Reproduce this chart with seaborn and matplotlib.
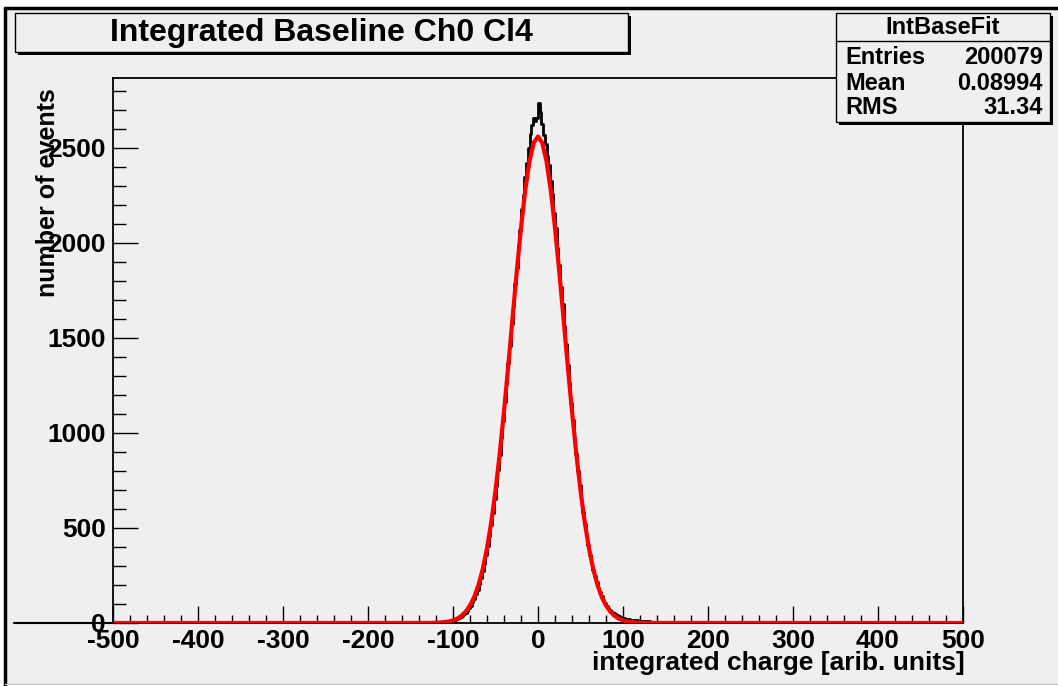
import numpy as np
import matplotlib
matplotlib.use("Agg")
import matplotlib.pyplot as plt
import seaborn as sns
from matplotlib.patches import Rectangle
from matplotlib.lines import Line2D
from matplotlib.ticker import MultipleLocator

# ---------------- data ----------------
title = "Integrated Baseline Ch0 Cl4"
x_label = "integrated charge [arib. units]"
y_label = "number of events"
stats_name = "IntBaseFit"
stats_rows = ["Entries", "Mean", "RMS"]
stats_vals = ["200079", "0.08994", "31.34"]

x_ticks = [-500, -400, -300, -200, -100, 0, 100, 200, 300, 400, 500]
x_tick_labels = ["-500", "-400", "-300", "-200", "-100", "0", "100", "200", "300", "400", "500"]
y_ticks = [0, 500, 1000, 1500, 2000, 2500]
y_tick_labels = ["0", "500", "1000", "1500", "2000", "2500"]

# histogram: bin centres (2 units wide) and counts per unit
hist_centers = list(range(-119, 151, 2))
hist_counts = [
    0, 1, 1, 2, 2, 3, 4, 6, 7, 10,
    13, 16, 21, 25, 30, 37, 45, 55, 64, 77,
    92, 108, 128, 151, 174, 205, 236, 272, 310, 357,
    404, 460, 518, 580, 652, 722, 804, 884, 975, 1062,
    1165, 1258, 1370, 1460, 1575, 1668, 1785, 1870, 1990, 2070,
    2180, 2250, 2345, 2420, 2500, 2575, 2620, 2655, 2640, 2660,
    2737, 2690, 2625, 2570, 2520, 2455, 2410, 2325, 2260, 2160,
    2080, 1975, 1885, 1770, 1680, 1565, 1470, 1360, 1265, 1158,
    1070, 970, 890, 800, 728, 648, 585, 520, 462, 410,
    360, 318, 280, 246, 214, 186, 162, 141, 122, 106,
    92, 80, 69, 60, 52, 45, 40, 35, 31, 28,
    25, 23, 21, 20, 18, 17, 16, 15, 14, 13,
    12, 12, 11, 10, 9, 8, 7, 5, 4, 3,
    2, 1, 1, 0, 0,
]

# red fit curve
fit_x = [-500, -130, -125, -120, -115, -110, -105, -100, -95, -90, -85, -80, -75, -70,
         -65, -60, -55, -50, -45, -40, -35, -30, -25, -20, -15, -10, -5, 0,
         5, 10, 15, 20, 25, 30, 35, 40, 45, 50, 55, 60, 65, 70, 75, 80, 85, 90,
         95, 100, 105, 110, 115, 120, 125, 130, 500]
fit_y = [0, 0.4, 0.8, 1.4, 3, 5, 8, 14, 23, 38, 60, 92, 137, 200,
         284, 393, 530, 697, 893, 1114, 1353, 1603, 1849, 2079, 2277, 2430, 2527, 2560,
         2527, 2430, 2277, 2079, 1849, 1603, 1353, 1114, 893, 697, 530, 393, 284, 200, 137, 92, 60, 38,
         23, 14, 8, 5, 3, 1.4, 0.8, 0.4, 0]

# ---------------- style ----------------
sns.set_theme(style="white")
plt.rcParams["font.family"] = ["Liberation Sans", "DejaVu Sans"]
plt.rcParams["font.weight"] = "bold"
plt.rcParams["axes.unicode_minus"] = False

BG = "#efefef"
W, H = 1058, 686


def fx(px):
    return px / W


def fy(py):
    return 1 - py / H


fig = plt.figure(figsize=(W / 100, H / 100), dpi=100)
fig.patch.set_facecolor("white")

# canvas
fig.add_artist(Rectangle((fx(5), fy(684)), fx(1058) - fx(5), fy(7) - fy(684),
                         transform=fig.transFigure, facecolor=BG, edgecolor="none", zorder=-10))
fig.add_artist(Line2D([fx(5), fx(1058)], [fy(8), fy(8)], transform=fig.transFigure,
                      color="black", lw=2.5, zorder=-5))
fig.add_artist(Line2D([fx(5), fx(5)], [fy(8), fy(686)], transform=fig.transFigure,
                      color="black", lw=2.5, zorder=-5))
fig.add_artist(Line2D([fx(5), fx(1058)], [fy(684), fy(684)], transform=fig.transFigure,
                      color="#c8c8c8", lw=1, zorder=-5))

ax = fig.add_axes([fx(113), fy(623), fx(963) - fx(113), fy(78) - fy(623)])
ax.set_facecolor(BG)

sns.histplot(x=hist_centers, weights=hist_counts, binwidth=2, binrange=(-500, 500),
             element="step", fill=False, color="black", linewidth=2.0, ax=ax, zorder=2)
sns.lineplot(x=fit_x, y=fit_y, color="#ff0000", linewidth=3.0, sort=False,
             estimator=None, ax=ax, zorder=3)

ax.set_xlim(-500, 500)
ax.set_ylim(0, 2868)
ax.set_xlabel("")
ax.set_ylabel("")
ax.set_xticks(x_ticks)
ax.set_xticklabels(x_tick_labels)
ax.set_yticks(y_ticks)
ax.set_yticklabels(y_tick_labels)
ax.xaxis.set_minor_locator(MultipleLocator(20))
ax.yaxis.set_minor_locator(MultipleLocator(100))
for s in ax.spines.values():
    s.set_color("black")
    s.set_linewidth(1.3)
    s.set_visible(True)
ax.tick_params(axis="x", which="major", direction="in", length=12, width=1,
               labelsize=19, pad=4, bottom=True, top=False, colors="black")
ax.tick_params(axis="x", which="minor", direction="in", length=6, width=1,
               bottom=True, top=False, colors="black")
ax.tick_params(axis="y", which="major", direction="in", length=18, width=1,
               labelsize=19, pad=5, left=True, right=False, colors="black")
ax.tick_params(axis="y", which="minor", direction="in", length=9, width=1,
               left=True, right=False, colors="black")
for lab in ax.get_xticklabels() + ax.get_yticklabels():
    lab.set_fontweight("bold")

# zero line extending to the left
fig.add_artist(Line2D([fx(14), fx(113)], [fy(623), fy(623)], transform=fig.transFigure,
                      color="black", lw=1.5, zorder=5))

# axis titles
fig.text(fx(48), fy(88), y_label, rotation=90, ha="center", va="top",
         fontsize=18, fontweight="bold", color="black")
fig.text(fx(965), fy(663), x_label, ha="right", va="center",
         fontsize=19, fontweight="bold", color="black")


def pave(x0, y0, x1, y1):
    fig.add_artist(Rectangle((fx(x0 + 3), fy(y1 + 3)), fx(x1) - fx(x0), fy(y0) - fy(y1),
                             transform=fig.transFigure, facecolor="black",
                             edgecolor="none", zorder=10))
    fig.add_artist(Rectangle((fx(x0), fy(y1)), fx(x1) - fx(x0), fy(y0) - fy(y1),
                             transform=fig.transFigure, facecolor=BG,
                             edgecolor="black", lw=1.0, zorder=11))


# title box
pave(15, 13, 628, 52)
fig.text(fx(321), fy(33), title, ha="center", va="center", fontsize=23,
         fontweight="bold", color="black", zorder=12)

# stats box
pave(836, 13, 1050, 122)
fig.add_artist(Line2D([fx(836), fx(1050)], [fy(41), fy(41)], transform=fig.transFigure,
                      color="black", lw=1.0, zorder=12))
fig.text(fx(943), fy(28), stats_name, ha="center", va="center", fontsize=17,
         fontweight="bold", color="black", zorder=12)
row_y = [57, 83, 108]
for name, val, yy in zip(stats_rows, stats_vals, row_y):
    fig.text(fx(845), fy(yy), name, ha="left", va="center", fontsize=17,
             fontweight="bold", color="black", zorder=12)
    fig.text(fx(1043), fy(yy), val, ha="right", va="center", fontsize=17,
             fontweight="bold", color="black", zorder=12)

fig.savefig("out.png", dpi=100, facecolor=fig.get_facecolor())
